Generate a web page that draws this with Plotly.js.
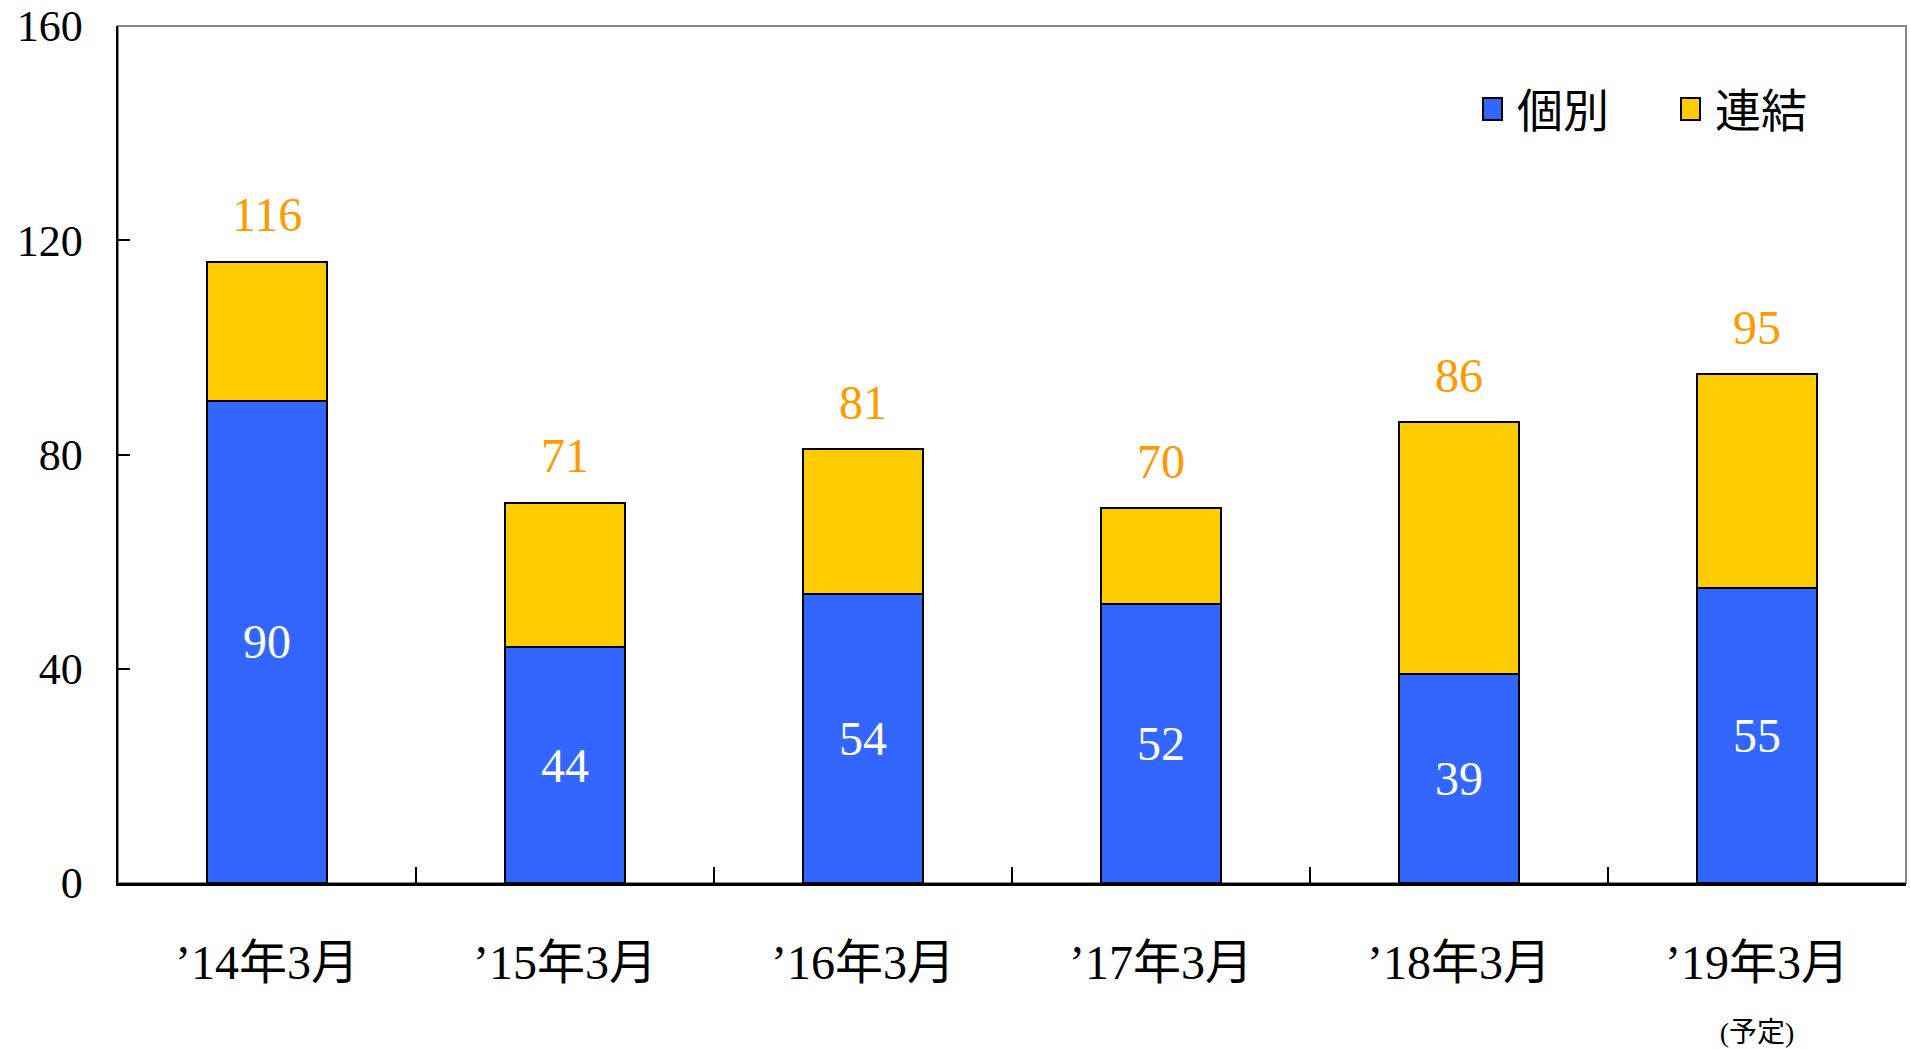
<!DOCTYPE html>
<html><head><meta charset="utf-8">
<script src="https://cdn.plot.ly/plotly-3.0.1.min.js"></script>
<style>html,body{margin:0;padding:0;background:#fff;}#chart{width:1910px;height:1049px;}</style>
</head><body><div id="chart"></div>
<script>
const categories = ["’14年3月", "’15年3月", "’16年3月", "’17年3月", "’18年3月", "’19年3月<br><span style='font-size:28px'>(予定)</span>"];
const kobetsu = [90, 44, 54, 52, 39, 55];
const renketsu = [26, 27, 27, 18, 47, 40];
const totals = [116, 71, 81, 70, 86, 95];
const seriesNames = ["個別", "連結"];
const seriesColors = ["#3366FF", "#FFCC00"];
const yTicks = [0, 40, 80, 120, 160];

const FONT = "'Liberation Serif', 'Noto Sans CJK JP', serif";

const traces = [
  {type: 'bar', name: seriesNames[0], x: categories, y: kobetsu,
   marker: {color: seriesColors[0], line: {color: '#000', width: 2}},
   text: kobetsu.map(String), textposition: 'inside', insidetextanchor: 'middle',
   textfont: {family: FONT, size: 48, color: '#fff'}, hoverinfo: 'skip'},
  {type: 'bar', name: seriesNames[1], x: categories, y: renketsu,
   marker: {color: seriesColors[1], line: {color: '#000', width: 2}},
   hoverinfo: 'skip'}
];

const annotations = totals.map((t, i) => ({
  x: categories[i], y: t, xref: 'x', yref: 'y', text: String(t), showarrow: false,
  yanchor: 'middle', yshift: 47, font: {family: FONT, size: 48, color: '#FF9900'}
}));

const legendBoxX = [0.7687, 0.8797];
const legendTextX = [0.7813, 0.8921];
seriesNames.forEach((n, i) => {
  annotations.push({xref: 'paper', yref: 'paper', x: legendBoxX[i], y: 0.9032, text: ' ',
    showarrow: false, xanchor: 'center', yanchor: 'middle', width: 17, height: 20,
    bgcolor: seriesColors[i], bordercolor: '#000', borderwidth: 2, borderpad: 0,
    font: {size: 4}});
  annotations.push({xref: 'paper', yref: 'paper', x: legendTextX[i], y: 0.9000, text: n,
    showarrow: false, xanchor: 'left', yanchor: 'middle',
    font: {family: FONT, size: 46, color: '#000'}});
});

const layout = {
  width: 1910, height: 1049,
  margin: {l: 118, r: 4, t: 26, b: 166},
  paper_bgcolor: '#fff', plot_bgcolor: '#fff',
  barmode: 'stack', bargap: 0.597,
  showlegend: false, hovermode: false,
  font: {family: FONT, color: '#000'},
  xaxis: {
    type: 'category', showline: true, linecolor: '#000', linewidth: 2.5,
    ticks: 'inside', ticklen: 16, tickwidth: 2, tickcolor: '#000', tickson: 'boundaries',
    showgrid: false, zeroline: false, ticklabelstandoff: 36, ticklabeloverflow: 'allow',
    tickfont: {family: FONT, size: 48, color: '#000'}
  },
  yaxis: {
    range: [0, 160], tickvals: yTicks, ticktext: yTicks.map(String),
    showline: true, linecolor: '#000', linewidth: 2.5,
    ticks: 'inside', ticklen: 12, tickwidth: 2, tickcolor: '#000',
    showgrid: false, zeroline: false, ticklabelstandoff: 24, ticklabeloverflow: 'allow',
    tickfont: {family: FONT, size: 44, color: '#000'}
  },
  shapes: [{type: 'rect', xref: 'paper', yref: 'paper', x0: 0, x1: 1, y0: 0, y1: 1,
    line: {color: '#888', width: 2}, layer: 'below'}],
  annotations: annotations
};

Plotly.newPlot('chart', traces, layout, {displayModeBar: false, staticPlot: true});
</script></body></html>
